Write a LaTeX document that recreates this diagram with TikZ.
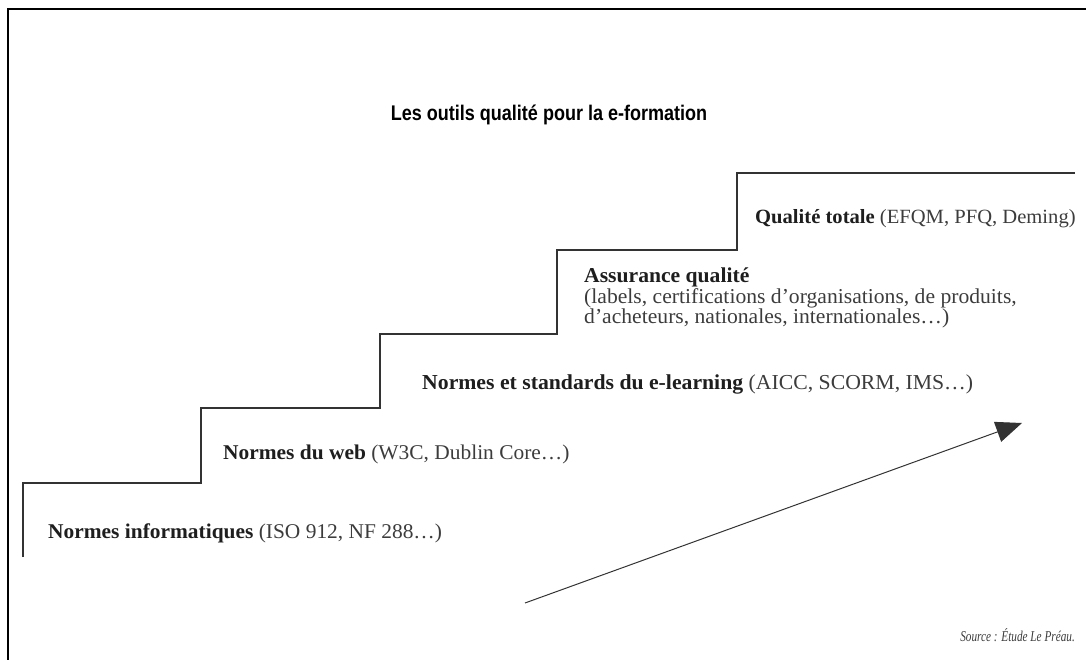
\documentclass[tikz,border=0pt]{standalone}
\usepackage{fontspec}
\setmainfont{Liberation Serif}
\newfontfamily\labelfont[FakeStretch=1.02]{Liberation Serif}
\newfontfamily\titlefont[FakeStretch=0.85]{Liberation Sans}
\newfontfamily\sourcefont[FakeStretch=0.75]{Liberation Serif}
\usetikzlibrary{arrows.meta}
\definecolor{inkdark}{HTML}{1E1E1E}
\definecolor{inkgray}{HTML}{3C3C3C}
\definecolor{stairline}{HTML}{333333}
\tikzset{
  frameline/.style={line width=2pt, black},
  stairs/.style={line width=1.4pt, stairline},
  steplabel/.style={anchor=base west, inner sep=0pt, font=\labelfont\fontsize{21}{24}\selectfont, text=inkgray},
  titletext/.style={anchor=base, inner sep=0pt, font=\titlefont\bfseries\fontsize{21.2}{24}\selectfont, text=black},
  sourcetext/.style={anchor=base east, inner sep=0pt, font=\sourcefont\itshape\fontsize{15}{17}\selectfont, text=inkgray},
  progress/.style={line width=1pt, stairline, -{Triangle[length=26pt, width=21pt]}}
}
\newcommand{\stepname}[1]{\textcolor{inkdark}{\bfseries #1}}
\begin{document}
\begin{tikzpicture}[x=1pt, y=-1pt]
  \useasboundingbox (0,0) rectangle (1086,660);
  % outer frame (left and top edges)
  \draw[frameline] (8,660) -- (8,9) -- (1086,9);

  % title
  \node[titletext] (title) at (549,121) {Les outils qualité pour la e-formation};

  % staircase
  \coordinate (s0) at (23,557);
  \coordinate (s1) at (201,483);
  \coordinate (s2) at (380,408);
  \coordinate (s3) at (557,334);
  \coordinate (s4) at (737,173);
  \coordinate (s5) at (1075,173);
  \draw[stairs] (s0) |- (s1) |- (s2) |- (s3) |- (737,250) |- (s5);

  % step labels
  \node[steplabel] (n1) at (48,538) {\stepname{Normes informatiques} (ISO 912, NF 288…)};
  \node[steplabel] (n2) at (223,459) {\stepname{Normes du web} (W3C, Dublin Core…)};
  \node[steplabel, font=\labelfont\fontsize{21.3}{24}\selectfont] (n3) at (422,389) {\stepname{Normes et standards du e-learning} (AICC, SCORM, IMS…)};
  \node[steplabel, align=left, anchor=north west, font=\labelfont\fontsize{21.2}{20.5}\selectfont] (n4) at (584,268)
    {\stepname{Assurance qualité}\\(labels, certifications d’organisations, de produits,\\d’acheteurs, nationales, internationales…)};
  \node[steplabel, font=\labelfont\fontsize{20.2}{24}\selectfont] (n5) at (755,224) {\stepname{Qualité totale} (EFQM, PFQ, Deming)};

  % rising arrow
  \coordinate (a0) at (525,603);
  \coordinate (a1) at (1022,423);
  \draw[progress] (a0) -- (a1);

  % source line
  \node[sourcetext] (src) at (1075,641) {Source : Étude Le Préau.};
\end{tikzpicture}
\end{document}
